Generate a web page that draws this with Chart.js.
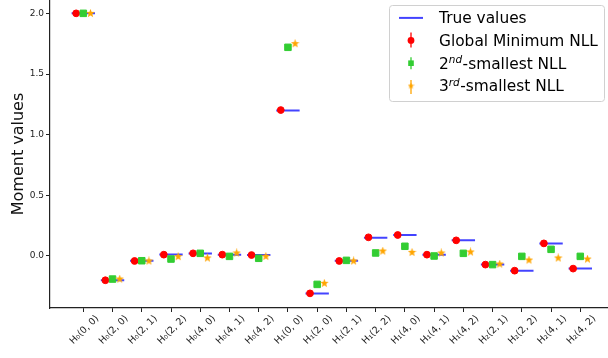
<!DOCTYPE html>
<html>
<head>
<meta charset="utf-8">
<script src="https://cdn.jsdelivr.net/npm/chart.js@4/dist/chart.umd.min.js"></script>
<style>
  html, body { margin: 0; padding: 0; background: #fff; }
  #wrap { width: 608px; height: 358px; }
</style>
</head>
<body>
<div id="wrap"><canvas id="c" width="608" height="358"></canvas></div>
<script>
// Moment labels (one per x position)
const categories = ['H₀(0, 0)', 'H₀(2, 0)', 'H₀(2, 1)', 'H₀(2, 2)', 'H₀(4, 0)', 'H₀(4, 1)', 'H₀(4, 2)',
                    'H₁(0, 0)', 'H₁(2, 0)', 'H₁(2, 1)', 'H₁(2, 2)', 'H₁(4, 0)', 'H₁(4, 1)', 'H₁(4, 2)',
                    'H₂(2, 1)', 'H₂(2, 2)', 'H₂(4, 1)', 'H₂(4, 2)'];
// True moment values
const trueValues = [2.0, -0.20, -0.040, 0.013, 0.020, 0.011, 0.008,
                    1.20, -0.310, -0.040, 0.151, 0.173, 0.011, 0.129,
                    -0.070, -0.121, 0.103, -0.104];
// Estimates from the global minimum of the NLL
const globalMin = [2.0, -0.20, -0.041, 0.011, 0.022, 0.011, 0.008,
                   1.203, -0.308, -0.041, 0.154, 0.173, 0.011, 0.129,
                   -0.071, -0.121, 0.104, -0.104];
// Estimates from the 2nd-smallest NLL
const secondNLL = [2.0, -0.19, -0.039, -0.025, 0.022, -0.003, -0.019,
                   1.72, -0.234, -0.036, 0.025, 0.080, 0.000, 0.022,
                   -0.071, -0.003, 0.055, -0.003];
// Estimates from the 3rd-smallest NLL
const thirdNLL = [2.0, -0.19, -0.041, -0.005, -0.016, 0.025, -0.003,
                  1.75, -0.225, -0.041, 0.041, 0.030, 0.025, 0.033,
                  -0.066, -0.033, -0.016, -0.025];
const yTicks = [0.0, 0.5, 1.0, 1.5, 2.0];

const FONT = "'DejaVu Sans', sans-serif";
const C_TRUE = 'rgba(20,20,255,0.8)';
const C_RED = '#ff0000';
const C_GREEN = '#32cd32';
const C_ORANGE = '#ffa500';

// Filled five-pointed star marker
function makeStar(size, color) {
  const c = document.createElement('canvas');
  c.width = c.height = size;
  const g = c.getContext('2d');
  const cx = size / 2, cy = size / 2, R = size / 2, r = R * 0.42;
  g.beginPath();
  for (let k = 0; k < 10; k++) {
    const a = -Math.PI / 2 + k * Math.PI / 5;
    const rr = k % 2 ? r : R;
    g.lineTo(cx + rr * Math.cos(a), cy + rr * Math.sin(a));
  }
  g.closePath();
  g.fillStyle = color;
  g.fill();
  return c;
}
const starImg = makeStar(9, C_ORANGE);
const starSmall = makeStar(7, C_ORANGE);

// Short horizontal segment per moment for the true value
const trueSegments = [];
trueValues.forEach((v, i) => {
  trueSegments.push({x: i - 0.4, y: v}, {x: i + 0.4, y: v}, {x: i + 0.5, y: null});
});
const offset = 0.245;
const redPts = globalMin.map((v, i) => ({x: i - offset, y: v}));
const greenPts = secondNLL.map((v, i) => ({x: i, y: v}));
const orangePts = thirdNLL.map((v, i) => ({x: i + offset, y: v}));

// Legend with superscripted ordinals, drawn in the upper-right corner
const nllLegend = {
  id: 'nllLegend',
  afterDraw(chart) {
    const ctx = chart.ctx;
    const bx = chart.chartArea.right - 219, by = 5, bw = 215, bh = 96;
    ctx.save();
    ctx.beginPath();
    ctx.roundRect(bx + 0.5, by + 0.5, bw, bh, 3);
    ctx.fillStyle = 'rgba(255,255,255,0.8)';
    ctx.fill();
    ctx.strokeStyle = '#d0d0d0';
    ctx.lineWidth = 1;
    ctx.stroke();

    const mx = bx + 22, tx = bx + 50;
    const base = [23.3, 45.8, 68.6, 91.4];
    const mid = base.map(b => b - 5.4);
    // true-value line
    ctx.strokeStyle = C_TRUE; ctx.lineWidth = 2;
    ctx.beginPath(); ctx.moveTo(mx - 12, mid[0]); ctx.lineTo(mx + 12, mid[0]); ctx.stroke();
    // error-bar style markers
    ctx.lineWidth = 1.3;
    ctx.strokeStyle = C_RED;
    ctx.beginPath(); ctx.moveTo(mx, mid[1] - 8); ctx.lineTo(mx, mid[1] + 7); ctx.stroke();
    ctx.fillStyle = C_RED;
    ctx.beginPath(); ctx.arc(mx, mid[1], 3.4, 0, Math.PI * 2); ctx.fill();
    ctx.strokeStyle = C_GREEN;
    ctx.beginPath(); ctx.moveTo(mx, mid[2] - 6); ctx.lineTo(mx, mid[2] + 6); ctx.stroke();
    ctx.fillStyle = C_GREEN;
    ctx.fillRect(mx - 2.8, mid[2] - 2.8, 5.6, 5.6);
    ctx.strokeStyle = C_ORANGE;
    ctx.beginPath(); ctx.moveTo(mx, mid[3] - 6); ctx.lineTo(mx, mid[3] + 8); ctx.stroke();
    ctx.drawImage(starSmall, mx - 3.5, mid[3] - 3.5);

    // labels
    ctx.fillStyle = '#000';
    ctx.textBaseline = 'alphabetic';
    ctx.textAlign = 'left';
    const big = `15.4px ${FONT}`, sup = `italic 10.5px ${FONT}`;
    ctx.font = big;
    ctx.fillText('True values', tx, base[0]);
    ctx.fillText('Global Minimum NLL', tx, base[1]);
    const ordinal = (num, suffix, rest, y) => {
      let x = tx;
      ctx.font = big; ctx.fillText(num, x, y); x += ctx.measureText(num).width;
      ctx.font = sup; ctx.fillText(suffix, x, y - 5.5); x += ctx.measureText(suffix).width + 0.5;
      ctx.font = big; ctx.fillText(rest, x, y);
    };
    ordinal('2', 'nd', '-smallest NLL', base[2]);
    ordinal('3', 'rd', '-smallest NLL', base[3]);
    ctx.restore();
  }
};

new Chart(document.getElementById('c'), {
  type: 'scatter',
  data: {
    datasets: [
      {label: 'True values', type: 'line', data: trueSegments, showLine: true, spanGaps: false,
       borderColor: C_TRUE, borderWidth: 2, pointRadius: 0, order: 4},
      {label: 'Global Minimum NLL', data: redPts, pointStyle: 'circle', pointRadius: 3.4,
       backgroundColor: C_RED, borderColor: C_RED, borderWidth: 1, order: 3},
      {label: '2nd-smallest NLL', data: greenPts, pointStyle: 'rect', pointRadius: 4.6,
       backgroundColor: C_GREEN, borderColor: C_GREEN, borderWidth: 1, order: 2},
      {label: '3rd-smallest NLL', data: orangePts, pointStyle: starImg,
       backgroundColor: C_ORANGE, borderColor: C_ORANGE, order: 1}
    ]
  },
  options: {
    responsive: false,
    animation: false,
    layout: {padding: 0, autoPadding: false},
    plugins: {legend: {display: false}, tooltip: {enabled: false}},
    scales: {
      x: {
        type: 'linear', min: -1.139, max: 17.948,
        afterBuildTicks: ax => { ax.ticks = categories.map((_, i) => ({value: i})); },
        afterFit: ax => { ax.height = 50; ax.paddingLeft = 0; ax.paddingRight = 0; },
        ticks: {autoSkip: false, minRotation: 45, maxRotation: 45, labelOffset: 14, padding: 1,
                color: '#222', font: {family: FONT, size: 9.5},
                callback: v => categories[v] ?? ''},
        grid: {drawOnChartArea: false, tickLength: 4, color: '#222'},
        border: {color: '#222', width: 1.2}
      },
      y: {
        type: 'linear', min: -0.4286, max: 2.110,
        afterBuildTicks: ax => { ax.ticks = yTicks.map(v => ({value: v})); },
        afterFit: ax => { ax.width = 50; ax.paddingTop = 0; ax.paddingBottom = 0; },
        ticks: {padding: 2, color: '#222', font: {family: FONT, size: 9},
                callback: v => Number(v).toFixed(1)},
        grid: {drawOnChartArea: false, tickLength: 4, color: '#222'},
        border: {color: '#222', width: 1.2},
        title: {display: true, text: 'Moment values', color: '#111',
                font: {family: FONT, size: 16}, padding: {top: 9, bottom: 0}}
      }
    }
  },
  plugins: [nllLegend]
});
</script>
</body>
</html>
